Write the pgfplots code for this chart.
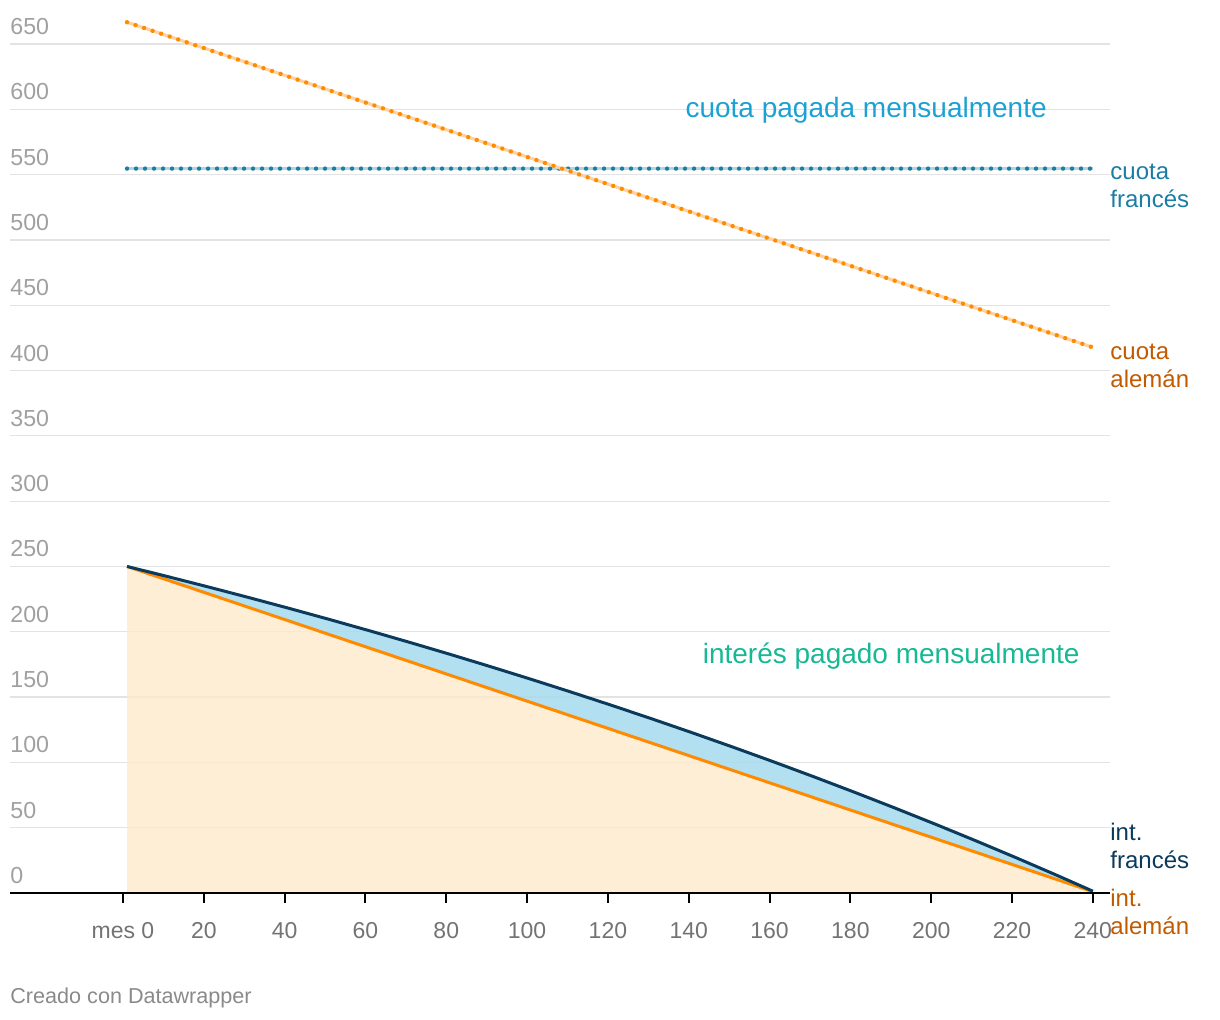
\documentclass[border=0pt]{standalone}
\usepackage{fontspec}
\setmainfont{Liberation Sans}
\usepackage{pgfplots}
\pgfplotsset{compat=1.18}
\usepgfplotslibrary{fillbetween}
\definecolor{gridgray}{HTML}{E3E3E3}
\definecolor{ylab}{HTML}{A0A0A0}
\definecolor{xlab}{HTML}{737373}
\definecolor{peach}{HTML}{FEEACB}
\definecolor{lightblue}{HTML}{A6DAED}
\definecolor{frnavy}{HTML}{0A3B5C}
\definecolor{alorange}{HTML}{FF8A00}
\definecolor{cfrdot}{HTML}{1B7FA0}
\definecolor{cfrlight}{HTML}{B3D5E1}
\definecolor{caldot}{HTML}{FF8C00}
\definecolor{callight}{HTML}{FFD3A1}
\definecolor{cuotablue}{HTML}{1DA1D3}
\definecolor{intgreen}{HTML}{17B894}
\definecolor{cfrtext}{HTML}{1C7DA4}
\definecolor{caltext}{HTML}{C25A00}
\definecolor{credit}{HTML}{8A8A8A}
\begin{document}
\begin{tikzpicture}
\begin{axis}[
  at={(0,0)}, anchor=south west,
  scale only axis, width=550pt, height=424.5pt,
  xmin=-27.96, xmax=244.25, ymin=0, ymax=650,
  axis line style={draw=none},
  xtick={0,20,...,240},
  xticklabels={mes 0,20,40,60,80,100,120,140,160,180,200,220,240},
  ytick={0,50,...,650},
  tick pos=left,
  tick align=outside, major tick length=5pt,
  xtick style={black, line width=1pt},
  ytick style={draw=none},
  ymajorgrids, grid style={gridgray, line width=0.6pt},
  /pgf/number format/assume math mode=true,
  yticklabel style={font=\fontsize{11.6}{13}\selectfont, text=ylab, anchor=base west, inner sep=0pt, xshift=5pt, yshift=4.75pt},
  xticklabel style={font=\fontsize{11.5}{13}\selectfont, text=xlab, anchor=north, inner sep=0pt, yshift=-9.5pt},
  clip=false,
]
% fills
\addplot[draw=none, fill=peach, fill opacity=0.8] coordinates {(1,250) (240,1.04)} \closedcycle;
\addplot[name path=fr, draw=none, forget plot] coordinates {
(1,250.00) (11,242.30) (21,234.40) (31,226.31) (41,218.01) (51,209.50) (61,200.77) (71,191.83) (81,182.66) (91,173.25) (101,163.61) (111,153.72) (121,143.59) (131,133.20) (141,122.54) (151,111.62) (161,100.42) (171,88.94) (181,77.16) (191,65.09) (201,52.72) (211,40.03) (221,27.02) (231,13.68) (240,1.38)};
\addplot[name path=al, draw=none, forget plot] coordinates {(1,250) (240,1.04)};
\addplot[fill=lightblue, fill opacity=0.85, draw=none] fill between[of=fr and al];
% interest lines
\addplot[alorange, line width=1.5pt] coordinates {(1,250) (240,1.04)};
\addplot[frnavy, line width=1.5pt] coordinates {
(1,250.00) (11,242.30) (21,234.40) (31,226.31) (41,218.01) (51,209.50) (61,200.77) (71,191.83) (81,182.66) (91,173.25) (101,163.61) (111,153.72) (121,143.59) (131,133.20) (141,122.54) (151,111.62) (161,100.42) (171,88.94) (181,77.16) (191,65.09) (201,52.72) (211,40.03) (221,27.02) (231,13.68) (240,1.38)};
% cuota lines
\addplot[cfrlight, line width=1.6pt] coordinates {(1,554.6) (240,554.6)};
\addplot[cfrdot, line width=2.2pt, line cap=round, dash pattern=on 0pt off 4.5pt] coordinates {(1,554.6) (240,554.6)};
\addplot[callight, line width=1.6pt] coordinates {(1,666.67) (240,417.71)};
\addplot[caldot, line width=2.2pt, line cap=round, dash pattern=on 0pt off 4.5pt] coordinates {(1,666.67) (240,417.71)};
% axis line
\draw[black, line width=1pt] (rel axis cs:0,0) -- (rel axis cs:1,0);
% annotations
\node[font=\fontsize{14}{16}\selectfont, text=cuotablue] at (axis cs:183.9,599.5) {cuota pagada mensualmente};
\node[font=\fontsize{14}{16}\selectfont, text=intgreen] at (axis cs:190.1,181.5) {interés pagado mensualmente};
\node[anchor=west, align=left, inner sep=0pt, font=\fontsize{12}{14}\selectfont, text=cfrtext] at (axis cs:244.25,541.3) {cuota\\francés};
\node[anchor=west, align=left, inner sep=0pt, font=\fontsize{12}{14}\selectfont, text=caltext] at (axis cs:244.25,403.5) {cuota\\alemán};
\node[anchor=west, align=left, inner sep=0pt, font=\fontsize{12}{14}\selectfont, text=frnavy] at (axis cs:244.25,36.0) {int.\\francés};
\node[anchor=west, align=left, inner sep=0pt, font=\fontsize{12}{14}\selectfont, text=caltext] at (axis cs:244.25,-14.5) {int.\\alemán};
\end{axis}
\node[anchor=base west, inner sep=0pt, font=\fontsize{10.8}{13}\selectfont, text=credit] at (0pt,-55.5pt) {Creado con Datawrapper};
\path (-5pt,-63.5pt) rectangle (605pt,446.5pt);
\end{tikzpicture}
\end{document}
